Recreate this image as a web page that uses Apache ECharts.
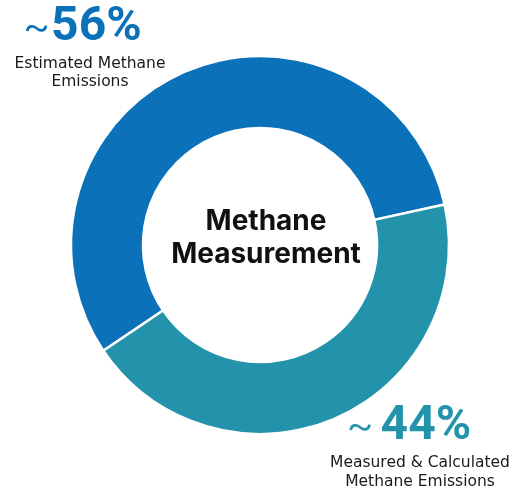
<!DOCTYPE html>
<html>
<head>
<meta charset="utf-8">
<script src="https://cdn.jsdelivr.net/npm/echarts@6/dist/echarts.min.js"></script>
<style>
  html, body { margin: 0; padding: 0; background: #ffffff; }
  #chart { width: 530px; height: 489px; }
</style>
</head>
<body>
<div id="chart"></div>
<script>
// Share of methane emissions by how they are quantified
const categories = ['Estimated Methane\nEmissions', 'Measured & Calculated\nMethane Emissions'];
const shares = [56, 44];
const sliceColors = ['#0b72b9', '#2393ab'];
const centerTitle = 'Methane\nMeasurement';

const TITLE_FONT = 'Inter, "Open Sans", sans-serif';
const NUM_FONT = 'Roboto, "Open Sans", sans-serif';
const CAPTION_FONT = '"DejaVu Sans", sans-serif';

const chart = echarts.init(document.getElementById('chart'), null, { renderer: 'canvas' });

// big "~NN%" figure for one slice
function shareFigure(i, x, y, gap) {
  return {
    type: 'text',
    x: x,
    y: y,
    style: {
      text: '{t|~}{v|' + shares[i] + '%}',
      align: 'center',
      rich: {
        t: { fontFamily: TITLE_FONT, fontSize: 44, fontWeight: 300, fill: sliceColors[i], lineHeight: 50, padding: [0, gap, 0, 0] },
        v: { fontFamily: NUM_FONT, fontSize: 48, fontWeight: 700, fill: sliceColors[i], lineHeight: 50 }
      }
    }
  };
}

// two-line caption under a figure
function caption(i, x, y) {
  return {
    type: 'text',
    x: x,
    y: y,
    style: {
      text: categories[i],
      align: 'center',
      fontFamily: CAPTION_FONT,
      fontSize: 15.5,
      lineHeight: 18.5,
      fill: '#1a1a1a'
    }
  };
}

chart.setOption({
  animation: false,
  series: [{
    type: 'pie',
    center: [260, 245],
    radius: [117, 189],
    startAngle: 214,
    clockwise: true,
    label: { show: false },
    labelLine: { show: false },
    itemStyle: { borderColor: '#ffffff', borderWidth: 2.5 },
    emphasis: { disabled: true },
    data: shares.map((v, i) => ({
      name: categories[i],
      value: v,
      itemStyle: { color: sliceColors[i] }
    }))
  }],
  graphic: [
    {
      type: 'text',
      x: 266,
      y: 205,
      style: {
        text: centerTitle,
        align: 'center',
        fontFamily: TITLE_FONT,
        fontSize: 28,
        fontWeight: 700,
        lineHeight: 33,
        fill: '#111111'
      }
    },
    shareFigure(0, 82, 3, 0),
    caption(0, 90, 54.5),
    shareFigure(1, 408.5, 402, 6),
    caption(1, 420, 454)
  ]
});
</script>
</body>
</html>
